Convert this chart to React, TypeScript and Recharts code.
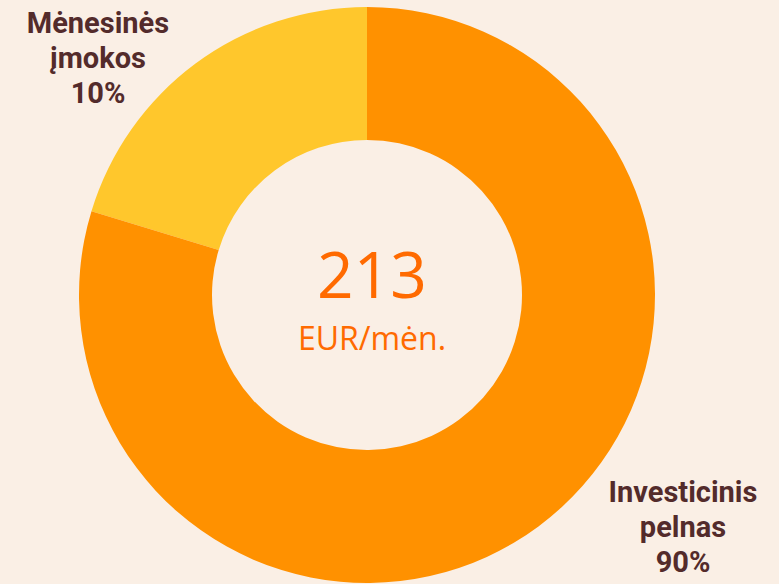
import React from "react";
import { PieChart, Pie, Cell } from "recharts";

const categories = ["Mėnesinės įmokos", "Investicinis pelnas"];
const sliceValues = [20.3, 79.7];
const percentLabels = ["10%", "90%"];
const sliceColors = ["#FFC72C", "#FF9100"];
const centerValue = "213";
const centerUnit = "EUR/mėn.";

const data = categories.map((name, i) => ({ name, value: sliceValues[i] }));

const BG = "#FAEFE5";
const TEXT = "#532B2B";
const CENTER = "#FF6A00";

export default function App() {
  return (
    <div style={{ position: "fixed", left: 0, top: 0, width: 779, height: 584, background: BG, overflow: "hidden" }}>
      <PieChart width={779} height={584} margin={{ top: 0, right: 0, bottom: 0, left: 0 }}>
        <Pie
          data={data}
          dataKey="value"
          nameKey="name"
          cx={367}
          cy={295}
          innerRadius={155}
          outerRadius={288}
          startAngle={90}
          endAngle={450}
          stroke="none"
          isAnimationActive={false}
        >
          {data.map((d, i) => (
            <Cell key={d.name} fill={sliceColors[i]} />
          ))}
        </Pie>
      </PieChart>
      <svg width={779} height={584} style={{ position: "absolute", left: 0, top: 0 }}>
        <g fontFamily="Roboto" fontWeight="bold" fontSize={29} fill={TEXT} textAnchor="middle">
          <text x={98} y={33}>Mėnesinės</text>
          <text x={98} y={68}>įmokos</text>
          <text x={98} y={103}>{percentLabels[0]}</text>
          <text x={683} y={502}>Investicinis</text>
          <text x={683} y={537}>pelnas</text>
          <text x={683} y={572}>{percentLabels[1]}</text>
        </g>
        <g fontFamily="Open Sans" fill={CENTER} textAnchor="middle">
          <text x={372} y={298} fontSize={64}>{centerValue}</text>
          <text x={372} y={350} fontSize={32}>{centerUnit}</text>
        </g>
      </svg>
    </div>
  );
}
